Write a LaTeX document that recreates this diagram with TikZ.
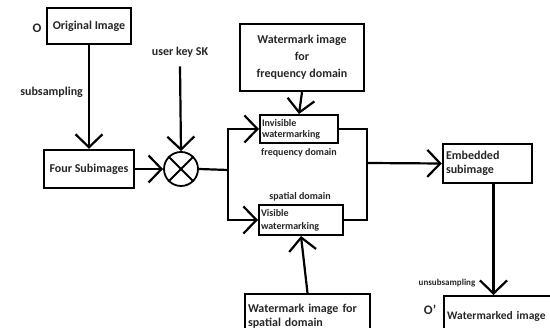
\documentclass[tikz,border=0pt]{standalone}
\usepackage{fontspec}
\setmainfont{Carlito}
\usetikzlibrary{positioning,arrows.meta,calc}

\begin{document}
\begin{tikzpicture}[
  x=1pt,y=-1pt,
  box/.style={rectangle,draw,line width=2.4pt,inner sep=2pt,font=\fontsize{12}{17}\selectfont\bfseries,text=black!85},
  smallbox/.style={box,line width=2pt,font=\fontsize{10}{13}\selectfont\bfseries,text width=#1,align=left},
  lab/.style={font=\fontsize{12}{14}\selectfont\bfseries,text=black!85,inner sep=1pt},
  tinylab/.style={font=\fontsize{9}{11}\selectfont\bfseries,text=black!85,inner sep=1pt},
  arr/.style={-{Straight Barb[length=13pt,width=27pt,line width=2.2pt]},line width=2.2pt},
  wire/.style={line width=2.2pt},
]
\useasboundingbox (0,0) rectangle (550,328);
\clip (0,0) rectangle (550,328);

% === LEFT: input ===
\node[box,minimum width=84pt,minimum height=36pt] (orig) at (89,26) {Original Image};
\node[lab,font=\fontsize{13}{15}\selectfont\bfseries] (olab) at (37,28) {O};
\node[box,minimum width=90pt,minimum height=38pt] (four) at (89,169) {Four Subimages};
\draw[arr] (orig.south) -- node[lab,pos=0.45,left=4pt] (sublab) {subsampling} (four.north);

% === key mixing ===
\node[circle,draw,line width=1.8pt,minimum size=34pt,inner sep=0pt] (mix) at (181,169) {};
\draw[line width=1.8pt] (mix.north west) -- (mix.south east);
\draw[line width=1.8pt] (mix.north east) -- (mix.south west);
\node[lab] (key) at (180,52) {user key SK};
\draw[arr] ([yshift=-8pt]key.south) -- (mix.north);
\draw[arr] (four.east) -- (mix.west);

% === watermarking branches ===
\coordinate (split) at (228,170);
\node[smallbox=74pt,minimum width=78pt,minimum height=28pt] (inv) at (299,129) {Invisible\\[-2pt]watermarking};
\node[smallbox=80pt,minimum width=84pt,minimum height=30pt] (vis) at (301,220) {Visible\\watermarking};
\node[tinylab,font=\fontsize{10}{12}\selectfont\bfseries] (freq) at (299,153) {frequency domain};
\node[tinylab,font=\fontsize{10}{12}\selectfont\bfseries] (spat) at (300,197) {spatial domain};
\draw[wire] (mix.east) -- (split);
\draw[arr] (split) |- (inv.west);
\draw[arr] (split) |- (vis.west);

% === watermark sources ===
\node[box,minimum width=124pt,minimum height=67pt,align=center] (wmf) at (302,57.5) {Watermark image\\for\\frequency domain};
\draw[arr] (wmf.south) -- (inv.north);
\node[box,minimum width=125pt,minimum height=44pt,text width=119pt,align=left,anchor=north,
  font=\fontsize{12}{13.5}\selectfont\bfseries,inner ysep=0pt] (wms) at (307.5,293) {Watermark image for\\spatial domain};
\draw[arr] (wms.north) -- (vis.south);

% === RIGHT: output ===
\coordinate (merge) at (367,163);
\draw[wire] (inv.east) -| (merge);
\draw[wire] (vis.east) -| (merge);
\node[box,minimum width=89pt,minimum height=39pt,text width=83pt,align=left] (emb) at (487.5,163.5) {Embedded\\[-3pt]subimage};
\draw[arr] (merge) -- (emb.west);
\node[box,minimum width=120pt,minimum height=40pt,anchor=north west,text width=114pt,align=left,
  font=\fontsize{11.5}{14}\selectfont\bfseries] (wm) at (443,295) {Watermarked image};
\draw[arr] ([xshift=6pt]emb.south) -- ([xshift=6pt]emb.south |- wm.north);
\node[tinylab] (unsub) at (447,283) {unsubsampling};
\node[lab,font=\fontsize{13}{15}\selectfont\bfseries] (olab2) at (430,310) {O'};

\end{tikzpicture}
\end{document}
